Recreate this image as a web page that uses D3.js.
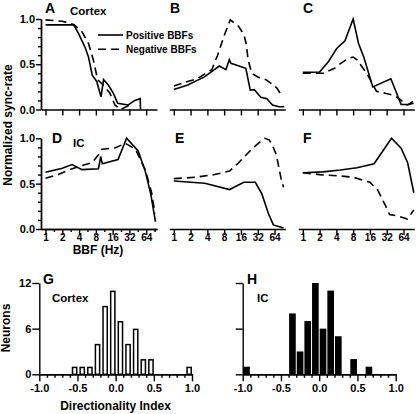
<!DOCTYPE html>
<html><head><meta charset="utf-8">
<script src="https://cdn.jsdelivr.net/npm/d3@7/dist/d3.min.js"></script>
<style>
html,body{margin:0;padding:0;background:#fff;}
svg text{font-family:"Liberation Sans",Arial,sans-serif;font-weight:bold;fill:#000;}
</style></head>
<body>
<svg id="c" width="416" height="414"></svg>
<script>
// ---------- data ----------
const bbfTicks = [1, 2, 4, 8, 16, 32, 64];
const bbfMinor = [1.414, 2.828, 5.657, 11.31, 22.63, 45.25, 90.51];
const rateTicks = [0, 0.5, 1.0];
const rateMinor = [0.1, 0.2, 0.3, 0.4, 0.6, 0.7, 0.8, 0.9];

// [BBF (Hz), normalized sync-rate]
const aPos = [[1,0.935],[3.2,0.935],[3.9,0.84],[5.1,0.69],[5.9,0.58],[6.9,0.38],[8.3,0.31],[9.9,0.14],[11,0.33],[13.4,0.27],[16.4,0.18],[19.7,0.07],[30.5,0.05],[40,0.10],[50,0.12],[50.6,0.0]];
const aNeg = [[1,0.99],[2,0.975],[3.2,0.94],[4.5,0.86],[5.9,0.73],[7.2,0.55],[8.6,0.33],[10.9,0.27],[14.3,0.18],[17.6,0.05],[22,0.0],[33,0.05]];
const bPos = [[1,0.22],[1.78,0.27],[3.54,0.36],[6.55,0.48],[8.6,0.44],[9.9,0.55],[10.6,0.51],[19.6,0.455],[23.5,0.215],[27.7,0.22],[36.4,0.135],[46.7,0.12],[58.9,0.05],[77.5,0.03],[96,0.03]];
const bNeg = [[1,0.26],[1.78,0.31],[2.6,0.34],[4.8,0.44],[6.1,0.60],[8.06,0.82],[10.3,0.99],[14.5,0.92],[18,0.83],[20,0.72],[21.5,0.55],[25,0.40],[32,0.36],[45,0.33],[58,0.28],[70,0.24],[85,0.16]];
const cPos = [[1,0.41],[2,0.415],[2.9,0.53],[4.06,0.675],[5.7,0.76],[8,1.0],[10,0.73],[12.4,0.58],[18,0.25],[38,0.34],[58,0.055],[78,0.055],[95,0.09]];
const cNeg = [[1,0.40],[2.3,0.40],[3.7,0.455],[4.8,0.51],[6.6,0.565],[8,0.58],[9.4,0.55],[14,0.40],[18.3,0.27],[21,0.2],[30,0.18],[40,0.16],[52,0.125],[74,0.05],[97,0.07]];
const dPos = [[1,0.625],[2,0.67],[3,0.71],[4.5,0.655],[8.9,0.665],[9.8,0.80],[10.4,0.72],[20,0.765],[28.5,1.0],[46,0.86],[62,0.63],[77,0.39],[94,0.08]];
const dNeg = [[1,0.56],[1.7,0.60],[2.6,0.65],[4.2,0.695],[6.8,0.73],[9,0.82],[10.3,0.88],[18,0.895],[27,0.945],[41,0.88],[62,0.65],[80,0.40],[92,0.17]];
const ePos = [[1,0.53],[3.6,0.505],[10,0.435],[18,0.515],[29,0.515],[37.8,0.39],[49.8,0.17],[61,0.045],[93,0.01]];
const eNeg = [[1,0.555],[2.4,0.57],[5.4,0.60],[10,0.64],[14,0.72],[17.3,0.78],[25,0.88],[32,0.94],[43,1.0],[52,0.98],[60,0.91],[69,0.82],[85,0.54],[93,0.46]];
const fPos = [[1,0.62],[2.3,0.63],[4.7,0.65],[9.4,0.675],[19,0.72],[39,1.0],[58,0.89],[76,0.73],[98,0.40]];
const fNeg = [[1,0.62],[2,0.60],[4.7,0.585],[8.1,0.57],[16,0.515],[22,0.43],[30,0.265],[36,0.16],[53,0.14],[75,0.11],[98,0.21]];

const diTicks = [-1.0, -0.5, 0.0, 0.5, 1.0];
const countTicks = [0, 6, 12];
const gBinStart = [-0.6,-0.5,-0.4,-0.3,-0.2,-0.1,0.0,0.1,0.2,0.3,0.4,0.9];
const gCounts   = [1,1,1,4,9,11,7,4,6,2,2,1];
const hBinStart = [-1.0,-0.4,-0.3,-0.2,-0.1,0.0,0.1,0.2,0.4,0.6];
const hCounts   = [1,8,3,7,12,6,11,5,2,1];

const legendLabels = ["Positive BBFs", "Negative BBFs"];

// ---------- drawing ----------
const svg = d3.select("#c");
const LW = 1.6, DASH = "8,5", AXW = 1.4;

function styleAxis(g, fs) {
  g.select(".domain").attr("stroke", "#000").attr("stroke-width", AXW);
  g.selectAll(".tick line").attr("stroke", "#000").attr("stroke-width", AXW);
  g.selectAll(".tick text").attr("font-size", fs).attr("fill", "#000")
    .attr("font-family", '"Liberation Sans",Arial,sans-serif').attr("font-weight", "bold");
}

const cols = [41, 169.3, 298.3];
const rows = [{top: 19, bot: 109.5}, {top: 138.3, bot: 229}];
const panels = [
  {row:0,col:0,pos:aPos,neg:aNeg,letter:"A",lx:45,ly:12.5,yaxis:true,sub:"Cortex",sx:70,sy:14.5},
  {row:0,col:1,pos:bPos,neg:bNeg,letter:"B",lx:170,ly:12.5},
  {row:0,col:2,pos:cPos,neg:cNeg,letter:"C",lx:303,ly:12.5},
  {row:1,col:0,pos:dPos,neg:dNeg,letter:"D",lx:52,ly:142.5,yaxis:true,sub:"IC",sx:73,sy:147,minor:true},
  {row:1,col:1,pos:ePos,neg:eNeg,letter:"E",lx:175,ly:142.5},
  {row:1,col:2,pos:fPos,neg:fNeg,letter:"F",lx:303,ly:142.5}
];

panels.forEach(p => {
  const x0 = cols[p.col];
  const r = rows[p.row];
  const x = d3.scaleLog().base(2).domain([0.83, 100]).range([x0, x0 + 116]);
  const y = d3.scaleLinear().domain([0, 1]).range([r.bot, r.top]);
  const bottomRow = p.row === 1;

  if (p.minor) {
    const gm = svg.append("g").attr("transform", `translate(0,${r.bot})`)
      .call(d3.axisBottom(x).tickValues(bbfMinor).tickSize(3).tickSizeOuter(0).tickFormat(""));
    styleAxis(gm, 10);
  }
  const gx = svg.append("g").attr("transform", `translate(0,${r.bot})`)
    .call(d3.axisBottom(x).tickValues(bbfTicks).tickSize(6).tickSizeOuter(0)
      .tickFormat(bottomRow ? d3.format("d") : ""));
  styleAxis(gx, 10);
  gx.selectAll(".tick text").attr("y", 4.6);

  if (p.yaxis) {
    const gym = svg.append("g").attr("transform", `translate(${x0},0)`)
      .call(d3.axisLeft(y).tickValues(rateMinor).tickSize(3).tickSizeOuter(0).tickFormat(""));
    styleAxis(gym, 11);
    const gy = svg.append("g").attr("transform", `translate(${x0},0)`)
      .call(d3.axisLeft(y).tickValues(rateTicks).tickSize(5).tickSizeOuter(0).tickPadding(1).tickFormat(d3.format(".1f")));
    styleAxis(gy, 11);
  }

  const line = d3.line().x(d => x(d[0])).y(d => y(d[1]));
  svg.append("path").datum(p.neg).attr("d", line).attr("fill", "none")
    .attr("stroke", "#000").attr("stroke-width", LW).attr("stroke-dasharray", DASH);
  svg.append("path").datum(p.pos).attr("d", line).attr("fill", "none")
    .attr("stroke", "#000").attr("stroke-width", LW);

  svg.append("text").attr("x", p.lx).attr("y", p.ly).attr("font-size", 14).text(p.letter);
  if (p.sub) svg.append("text").attr("x", p.sx).attr("y", p.sy).attr("font-size", 11.5).text(p.sub);
});

// legend in panel A
legendLabels.forEach((lab, i) => {
  const ly = 35 + i * 14.3;
  svg.append("line").attr("x1", 98).attr("x2", 123).attr("y1", ly).attr("y2", ly)
    .attr("stroke", "#000").attr("stroke-width", LW)
    .attr("stroke-dasharray", i === 1 ? DASH : null);
  svg.append("text").attr("x", 126).attr("y", ly + 3.6).attr("font-size", 10).text(lab);
});

// axis titles
svg.append("text").attr("transform", "translate(12,125) rotate(-90)")
  .attr("text-anchor", "middle").attr("font-size", 12).text("Normalized sync-rate");
svg.append("text").attr("x", 98).attr("y", 253.5).attr("text-anchor", "middle")
  .attr("font-size", 12).text("BBF (Hz)");

// histograms
const hists = [
  {x0: 39.3, x1: 192, bins: gBinStart, counts: gCounts, filled: false, labels: true,
   letter: "G", lx: 43, sub: "Cortex", sx: 52},
  {x0: 242.7, x1: 395.7, bins: hBinStart, counts: hCounts, filled: true, labels: false,
   letter: "H", lx: 247, sub: "IC", sx: 257}
];
const diMinor = d3.range(-10, 11).map(i => i / 10).filter(v => Math.abs(v * 2 - Math.round(v * 2)) > 1e-6);

hists.forEach(h => {
  const x = d3.scaleLinear().domain([-1, 1]).range([h.x0, h.x1]);
  const y = d3.scaleLinear().domain([0, 12]).range([374.3, 283]);

  const bars = h.bins.map((b, i) => ({b, c: h.counts[i]}));
  if (h.filled) {
    svg.append("g").selectAll("rect").data(bars).join("rect")
      .attr("x", d => x(d.b) + 0.5)
      .attr("width", d => x(d.b + 0.1) - x(d.b) - 1)
      .attr("y", d => y(d.c)).attr("height", d => y(0) - y(d.c))
      .attr("fill", "#000");
  } else {
    svg.append("g").selectAll("rect").data(bars).join("rect")
      .attr("x", d => x(d.b + 0.025) + 0.75)
      .attr("width", d => x(d.b + 0.1) - x(d.b + 0.025) - 1.5)
      .attr("y", d => y(d.c) + 0.75).attr("height", d => y(0) - y(d.c) - 0.75)
      .attr("fill", "#fff").attr("stroke", "#000").attr("stroke-width", 1.5);
  }

  const gm = svg.append("g").attr("transform", "translate(0,374.3)")
    .call(d3.axisBottom(x).tickValues(diMinor).tickSize(3.5).tickSizeOuter(0).tickFormat(""));
  styleAxis(gm, 11);
  const gx = svg.append("g").attr("transform", "translate(0,374.3)")
    .call(d3.axisBottom(x).tickValues(diTicks).tickSize(7).tickSizeOuter(0).tickPadding(3).tickFormat(d3.format(".1f")));
  styleAxis(gx, 11);
  gx.selectAll(".tick text").text(d => d3.format(".1f")(d).replace("−", "-"));

  const gy = svg.append("g").attr("transform", `translate(${h.x0},0)`)
    .call(d3.axisLeft(y).tickValues(countTicks).tickSize(7).tickSizeOuter(0).tickPadding(1)
      .tickFormat(h.labels ? d3.format("d") : ""));
  styleAxis(gy, 11);

  svg.append("text").attr("x", h.lx).attr("y", 283.5).attr("font-size", 14).text(h.letter);
  svg.append("text").attr("x", h.sx).attr("y", 302).attr("font-size", 11.5).text(h.sub);
});

svg.append("text").attr("transform", "translate(9.5,328) rotate(-90)")
  .attr("text-anchor", "middle").attr("font-size", 12).text("Neurons");
svg.append("text").attr("x", 115.5).attr("y", 410).attr("text-anchor", "middle")
  .attr("font-size", 12).text("Directionality Index");
</script>
</body></html>
